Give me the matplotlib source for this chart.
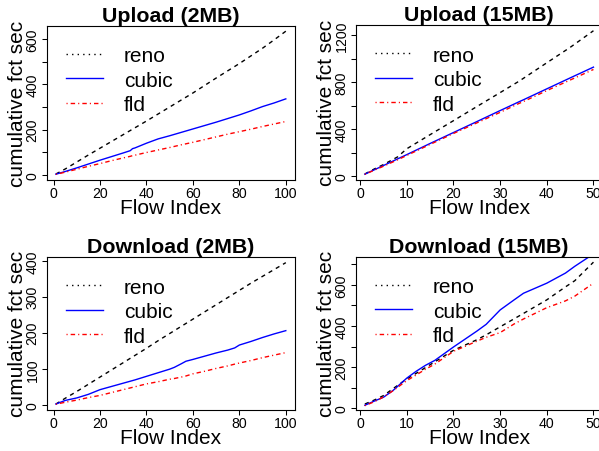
import matplotlib
matplotlib.use("Agg")
import matplotlib.pyplot as plt
from matplotlib.lines import Line2D

plt.rcParams['font.family'] = ['Liberation Sans', 'DejaVu Sans']

# ---- data: cumulative flow completion time (s) vs flow index ----
series_names = ["reno", "cubic", "fld"]

up2_flows = [1, 5, 10, 15, 20, 25, 30, 33, 34, 35, 40, 45, 50, 55, 60, 65, 70, 75, 80, 85, 90, 95, 100]
up2_reno  = [4, 26, 57, 88, 118, 148, 178, 196, 202, 208, 238, 269, 300, 331, 362, 395, 428, 460, 492, 526, 560, 597, 635]
up2_cubic = [3, 15, 31, 48, 65, 81, 97, 107, 116, 119, 140, 159, 173, 188, 203, 218, 233, 249, 265, 283, 302, 318, 336]
up2_fld   = [2.5, 12, 25, 38, 50, 63, 75, 82, 85, 87, 99, 110, 121, 133, 144, 156, 168, 180, 191, 202, 214, 225, 236]

up15_flows = [1, 3, 5, 8, 10, 15, 20, 25, 30, 34, 35, 40, 45, 50]
up15_reno  = [20, 62, 100, 165, 235, 355, 474, 594, 713, 809, 835, 967, 1098, 1240]
up15_cubic = [18, 55, 92, 148, 185, 280, 373, 466, 560, 634, 652, 745, 838, 930]
up15_fld   = [17, 52, 86, 140, 178, 272, 365, 455, 545, 620, 637, 730, 820, 910]

dn2_flows = [1, 5, 10, 15, 20, 25, 30, 35, 40, 45, 50, 52, 55, 57, 60, 65, 70, 75, 78, 80, 85, 90, 95, 100]
dn2_reno  = [2, 18, 37, 57, 77, 97, 117, 137, 157, 178, 198, 206, 218, 226, 238, 258, 278, 298, 310, 318, 338, 357, 376, 395]
dn2_cubic = [2, 12, 19, 29, 42, 51, 60, 69, 79, 89, 99, 104, 114, 121, 126, 135, 144, 152, 158, 166, 176, 187, 197, 206]
dn2_fld   = [1.5, 7, 13, 20, 26, 34, 42, 50, 58, 64, 71, 73, 77, 80, 86, 93, 101, 108, 113, 116, 123, 131, 138, 145]

dn15_flows = [1, 3, 5, 7, 10, 12, 14, 16, 20, 25, 27, 30, 33, 35, 40, 44, 46, 50]
dn15_reno  = [21, 40, 62, 95, 143, 170, 198, 226, 282, 333, 357, 396, 435, 461, 527, 590, 620, 710]
dn15_cubic = [15, 35, 54, 86, 147, 180, 209, 233, 298, 375, 408, 478, 527, 559, 608, 657, 690, 750]
dn15_fld   = [13, 32, 55, 85, 135, 162, 190, 215, 277, 326, 345, 368, 410, 434, 489, 522, 545, 608]

# labelled y ticks and the unlabelled ticks between them
up2_yticks = [0, 200, 400, 600]
up2_yminor = [100, 300, 500]
up15_yticks = [0, 400, 800, 1200]
up15_yminor = [200, 600, 1000]
dn2_yticks = [0, 100, 200, 300, 400]
dn2_yminor = []
dn15_yticks = [0, 200, 400, 600]
dn15_yminor = [100, 300, 500, 700]

x100_ticks = [0, 20, 40, 60, 80, 100]
x50_ticks = [0, 10, 20, 30, 40, 50]

# ---- figure ----
W, H = 599, 452
fig = plt.figure(figsize=(W / 100, H / 100), dpi=100)

def px_rect(l, t, r, b):
    return [l / W, 1 - b / H, (r - l) / W, (b - t) / H]

RENO_DASH = (0, (3, 3))
FLD_DASH = (0, (0.8, 2.2, 3.2, 2.2))
STYLES = {
    "reno": dict(color="black", linestyle=RENO_DASH),
    "cubic": dict(color="blue", linestyle="-"),
    "fld": dict(color="red", linestyle=FLD_DASH),
}
LEGEND_STYLES = {
    "reno": dict(color="black", linestyle=(0, (1, 3))),
    "cubic": dict(color="blue", linestyle="-"),
    "fld": dict(color="red", linestyle=FLD_DASH),
}


def panel(rect_px, title, flows, reno, cubic, fld, yticks, yminor, xticks):
    l, t, r, b = rect_px
    axw, axh = r - l, b - t
    ax = fig.add_axes(px_rect(*rect_px))
    for name, vals in zip(series_names, (reno, cubic, fld)):
        ax.plot(flows, vals, lw=1.0, **STYLES[name])

    # 4% padding around the data range; y range follows the reno series
    x0, x1 = min(flows), max(flows)
    dx = 0.04 * (x1 - x0)
    ax.set_xlim(x0 - dx, x1 + dx)
    y0, y1 = min(reno), max(reno)
    dy = 0.04 * (y1 - y0)
    ax.set_ylim(y0 - dy, y1 + dy)

    ax.set_xticks(xticks)
    ax.set_xticklabels([str(v) for v in xticks])
    ax.set_yticks(yticks)
    ax.set_yticklabels([str(v) for v in yticks])
    ax.set_yticks(yminor, minor=True)
    ax.tick_params(axis="both", which="both", direction="out", length=3.6,
                   width=0.75, labelsize=10.2, colors="black")
    ax.tick_params(axis="x", pad=1.0)
    ax.tick_params(axis="y", pad=1.6)
    for lab in ax.get_yticklabels():
        lab.set_rotation(90)
        lab.set_va("center")
        lab.set_ha("right")
    for sp in ax.spines.values():
        sp.set_linewidth(0.8)

    ax.set_title(title, fontsize=15.4, fontweight="bold", pad=3.3)
    ax.set_xlabel("Flow Index", fontsize=15)
    ax.xaxis.set_label_coords(0.5, -18.3 / axh)
    ax.set_ylabel("cumulative fct sec", fontsize=15)
    ax.yaxis.set_label_coords(-19.5 / axw, 0.5)

    handles = [Line2D([], [], lw=1.0, **LEGEND_STYLES[n]) for n in series_names]
    ax.legend(handles, series_names, loc="upper left",
              bbox_to_anchor=(19 / axw, 1 - 20.5 / axh), frameon=False,
              fontsize=15, handlelength=1.79, handletextpad=1.0,
              labelspacing=0.27, borderpad=0, borderaxespad=0)
    return ax


panel((46.7, 26.5, 295, 180.7), "Upload (2MB)", up2_flows, up2_reno, up2_cubic, up2_fld,
      up2_yticks, up2_yminor, x100_ticks)
panel((355.7, 26.0, 602.6, 180.7), "Upload (15MB)", up15_flows, up15_reno, up15_cubic, up15_fld,
      up15_yticks, up15_yminor, x50_ticks)
panel((46.7, 258.0, 295, 410.7), "Download (2MB)", dn2_flows, dn2_reno, dn2_cubic, dn2_fld,
      dn2_yticks, dn2_yminor, x100_ticks)
panel((355.7, 257.5, 602.6, 410.7), "Download (15MB)", dn15_flows, dn15_reno, dn15_cubic, dn15_fld,
      dn15_yticks, dn15_yminor, x50_ticks)

fig.savefig("out.png", dpi=100)
